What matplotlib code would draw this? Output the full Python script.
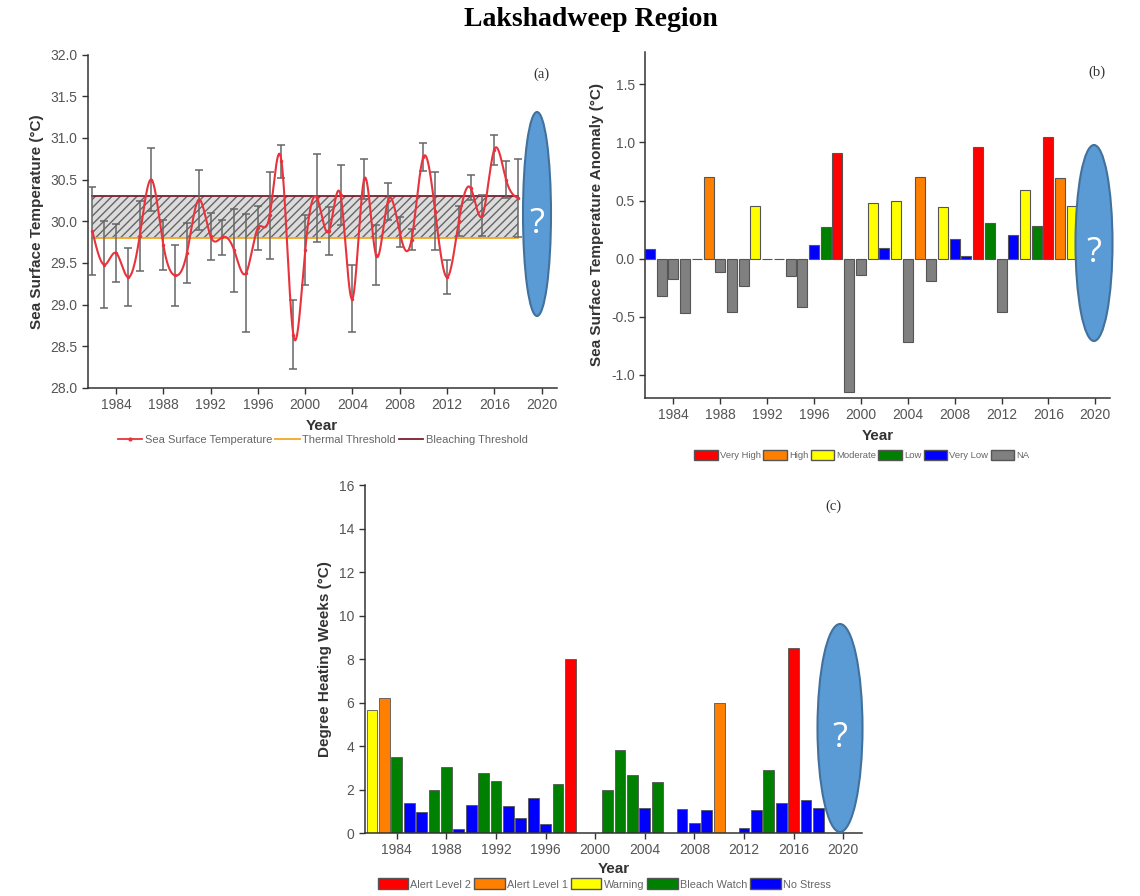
import numpy as np
import matplotlib
matplotlib.use("Agg")
import matplotlib.pyplot as plt
from matplotlib.patches import Ellipse, Patch, Rectangle
from matplotlib.lines import Line2D

plt.rcParams['font.family'] = ['Liberation Sans', 'DejaVu Sans']

# Data
years = list(range(1982, 2019))

sst_mean = [29.88, 29.48, 29.62, 29.33, 29.82, 30.50, 29.72, 29.35, 29.62, 30.26,
            29.82, 29.81, 29.65, 29.38, 29.92, 30.07, 30.72, 28.64, 29.65, 30.28,
            29.88, 30.31, 29.07, 30.51, 29.59, 30.24, 29.87, 29.78, 30.77, 30.12,
            29.33, 30.00, 30.40, 30.07, 30.86, 30.50, 30.28]
sst_sd = [0.53, 0.52, 0.35, 0.35, 0.42, 0.38, 0.30, 0.37, 0.36, 0.36,
          0.28, 0.21, 0.50, 0.71, 0.26, 0.52, 0.20, 0.41, 0.42, 0.53,
          0.29, 0.36, 0.40, 0.24, 0.36, 0.22, 0.18, 0.13, 0.17, 0.47,
          0.20, 0.18, 0.15, 0.25, 0.18, 0.22, 0.47]
thermal_threshold = 29.8
bleaching_threshold = 30.3

anomaly = [0.08, -0.32, -0.18, -0.47, 0.0, 0.70, -0.12, -0.46, -0.24, 0.45,
           0.0, 0.0, -0.15, -0.42, 0.12, 0.27, 0.91, -1.15, -0.14, 0.48,
           0.09, 0.50, -0.72, 0.70, -0.19, 0.44, 0.17, 0.02, 0.96, 0.31,
           -0.46, 0.20, 0.59, 0.28, 1.05, 0.69, 0.45]
anomaly_class = ['Very Low', 'NA', 'NA', 'NA', 'NA', 'High', 'NA', 'NA', 'NA', 'Moderate',
                 'NA', 'NA', 'NA', 'NA', 'Very Low', 'Low', 'Very High', 'NA', 'NA', 'Moderate',
                 'Very Low', 'Moderate', 'NA', 'High', 'NA', 'Moderate', 'Very Low', 'Very Low',
                 'Very High', 'Low', 'NA', 'Very Low', 'Moderate', 'Low', 'Very High', 'High',
                 'Moderate']
anomaly_colors = {'Very High': '#ff0000', 'High': '#ff8000', 'Moderate': '#ffff00',
                  'Low': '#008000', 'Very Low': '#0000ff', 'NA': '#808080'}

dhw = [5.65, 6.2, 3.5, 1.4, 0.95, 2.0, 3.05, 0.2, 1.3, 2.75,
       2.4, 1.25, 0.7, 1.6, 0.4, 2.25, 8.0, 0.0, 0.0, 2.0,
       3.8, 2.65, 1.15, 2.35, 0.0, 1.1, 0.45, 1.05, 6.0, 0.0,
       0.25, 1.05, 2.9, 1.4, 8.5, 1.5, 1.15]
dhw_class = ['Warning', 'Alert Level 1', 'Bleach Watch', 'No Stress', 'No Stress',
             'Bleach Watch', 'Bleach Watch', 'No Stress', 'No Stress', 'Bleach Watch',
             'Bleach Watch', 'No Stress', 'No Stress', 'No Stress', 'No Stress',
             'Bleach Watch', 'Alert Level 2', 'No Stress', 'No Stress', 'Bleach Watch',
             'Bleach Watch', 'Bleach Watch', 'No Stress', 'Bleach Watch', 'No Stress',
             'No Stress', 'No Stress', 'No Stress', 'Alert Level 1', 'No Stress',
             'No Stress', 'No Stress', 'Bleach Watch', 'No Stress', 'Alert Level 2',
             'No Stress', 'No Stress']
dhw_colors = {'Alert Level 2': '#ff0000', 'Alert Level 1': '#ff8000', 'Warning': '#ffff00',
              'Bleach Watch': '#008000', 'No Stress': '#0000ff'}

year_ticks = list(range(1984, 2021, 4))


def natural_spline(x, y, n=2000):
    # natural cubic spline, only used to draw the smoothed line
    x = np.asarray(x, float)
    y = np.asarray(y, float)
    h = np.diff(x)
    m = len(x)
    A = np.zeros((m, m))
    b = np.zeros(m)
    A[0, 0] = A[-1, -1] = 1
    for i in range(1, m - 1):
        A[i, i - 1] = h[i - 1]
        A[i, i] = 2 * (h[i - 1] + h[i])
        A[i, i + 1] = h[i]
        b[i] = 3 * ((y[i + 1] - y[i]) / h[i] - (y[i] - y[i - 1]) / h[i - 1])
    c = np.linalg.solve(A, b)
    xs = np.linspace(x[0], x[-1], n)
    idx = np.clip(np.searchsorted(x, xs) - 1, 0, m - 2)
    dx = xs - x[idx]
    bb = (y[idx + 1] - y[idx]) / h[idx] - h[idx] * (2 * c[idx] + c[idx + 1]) / 3
    dd = (c[idx + 1] - c[idx]) / (3 * h[idx])
    ys = y[idx] + bb * dx + c[idx] * dx ** 2 + dd * dx ** 3
    return xs, ys


def style_axes(ax):
    for s in ['top', 'right']:
        ax.spines[s].set_visible(False)
    for s in ['left', 'bottom']:
        ax.spines[s].set_color('#333333')
        ax.spines[s].set_linewidth(1.1)
    ax.tick_params(direction='out', length=4, width=1, colors='#333333',
                   labelcolor='#555555', labelsize=10)
    ax.set_xticks(year_ticks)


fig = plt.figure(figsize=(11.4, 8.96), dpi=100)
fig.text(0.518, 0.978, 'Lakshadweep Region', ha='center', va='center',
         fontsize=20, fontweight='bold', family='Liberation Serif')

# (a) Sea surface temperature
ax1 = fig.add_axes([0.0772, 0.567, 0.411, 0.372])
ax1.add_patch(Rectangle((years[0], thermal_threshold), years[-1] - years[0],
                        bleaching_threshold - thermal_threshold,
                        facecolor='#dcdcdc', edgecolor='#666666', hatch='////',
                        linewidth=0, zorder=1))
ax1.plot([years[0], years[-1]], [thermal_threshold] * 2, color='#f5a623', lw=1.3, zorder=2)
ax1.plot([years[0], years[-1]], [bleaching_threshold] * 2, color='#7b1e2e', lw=1.3, zorder=2)
ax1.errorbar(years, sst_mean, yerr=sst_sd, fmt='none', ecolor='#666666',
             elinewidth=1.1, capsize=3, capthick=1.1, zorder=3)
xs, ys = natural_spline(years, sst_mean)
ax1.plot(xs, ys, color='#e8333c', lw=1.5, zorder=4)
ax1.plot(years, sst_mean, 'o', color='#e8333c', ms=1.5, zorder=4)
ax1.set_xlim(1981.63, 2021.27)
ax1.set_ylim(28.0, 32.0)
ax1.set_yticks(np.arange(28.0, 32.01, 0.5))
ax1.set_yticklabels([f'{v:.1f}' for v in np.arange(28.0, 32.01, 0.5)])
style_axes(ax1)
ax1.set_xlabel('Year', fontsize=11, fontweight='bold', color='#333333', labelpad=5)
ax1.set_ylabel('Sea Surface Temperature (°C)', fontsize=11, fontweight='bold',
               color='#333333', labelpad=5)
ax1.text(0.985, 0.93, '(a)', transform=ax1.transAxes, ha='right', fontsize=10.5,
         family='Liberation Serif', color='#333333')
h1 = [Line2D([], [], color='#e8333c', marker='o', ms=2, lw=1.3),
      Line2D([], [], color='#f5a623', lw=1.3),
      Line2D([], [], color='#7b1e2e', lw=1.3)]
fig.legend(h1, ['Sea Surface Temperature', 'Thermal Threshold', 'Bleaching Threshold'],
           loc='center', bbox_to_anchor=(0.283, 0.509), ncol=3, frameon=False,
           fontsize=8, labelcolor='#666666', handlelength=2.2, handletextpad=0.2,
           columnspacing=0.3)

# (b) SST anomaly
ax2 = fig.add_axes([0.566, 0.556, 0.408, 0.386])
ax2.bar(years, anomaly, width=0.85, color=[anomaly_colors[c] for c in anomaly_class],
        edgecolor='#555555', linewidth=0.8, zorder=2)
ax2.set_xlim(1981.6, 2021.28)
ax2.set_ylim(-1.2, 1.78)
ax2.set_yticks([-1.0, -0.5, 0.0, 0.5, 1.0, 1.5])
ax2.set_yticklabels(['-1.0', '-0.5', '0.0', '0.5', '1.0', '1.5'])
style_axes(ax2)
ax2.set_xlabel('Year', fontsize=11, fontweight='bold', color='#333333', labelpad=5)
ax2.set_ylabel('Sea Surface Temperature Anomaly (°C)', fontsize=11, fontweight='bold',
               color='#333333', labelpad=5)
ax2.text(0.99, 0.93, '(b)', transform=ax2.transAxes, ha='right', fontsize=10.5,
         family='Liberation Serif', color='#333333')
h2 = [Patch(facecolor=anomaly_colors[k], edgecolor='#555555') for k in anomaly_colors]
fig.legend(h2, list(anomaly_colors), loc='center', bbox_to_anchor=(0.756, 0.492),
           ncol=6, frameon=False, fontsize=6.8, labelcolor='#666666', handlelength=2.5,
           handleheight=1.2, handletextpad=0.2, columnspacing=0.25)

# (c) Degree heating weeks
ax3 = fig.add_axes([0.320, 0.0703, 0.436, 0.388])
ax3.bar(years, dhw, width=0.88, color=[dhw_colors[c] for c in dhw_class],
        edgecolor='#555555', linewidth=0.6, zorder=2)
ax3.set_xlim(1981.42, 2021.5)
ax3.set_ylim(0, 16)
ax3.set_yticks(range(0, 17, 2))
style_axes(ax3)
ax3.set_xlabel('Year', fontsize=11, fontweight='bold', color='#333333', labelpad=3)
ax3.set_ylabel('Degree Heating Weeks (°C)', fontsize=11, fontweight='bold',
               color='#333333', labelpad=5)
ax3.text(0.96, 0.93, '(c)', transform=ax3.transAxes, ha='right', fontsize=10.5,
         family='Liberation Serif', color='#333333')
h3 = [Patch(facecolor=dhw_colors[k], edgecolor='#555555') for k in dhw_colors]
fig.legend(h3, list(dhw_colors), loc='center', bbox_to_anchor=(0.53, 0.0134),
           ncol=5, frameon=False, fontsize=7.8, labelcolor='#666666', handlelength=2.8,
           handleheight=1.2, handletextpad=0.2, columnspacing=0.3)

# overlay "?" ellipses (in pixels of the 1140x896 figure)
for cx, cy, w, h in [(537, 214, 28, 204), (1094, 243, 37, 196), (840, 728, 45, 208)]:
    fig.patches.append(Ellipse((cx / 1140, 1 - cy / 896), w / 1140, h / 896,
                               transform=fig.transFigure, facecolor='#5b9bd5',
                               edgecolor='#41719c', linewidth=1.5, zorder=10))
    fig.text(cx / 1140, 1 - (cy + 10) / 896, '?', ha='center', va='center',
             color='white', fontsize=25, family='Open Sans', zorder=11)

fig.savefig('out.png', dpi=100)
